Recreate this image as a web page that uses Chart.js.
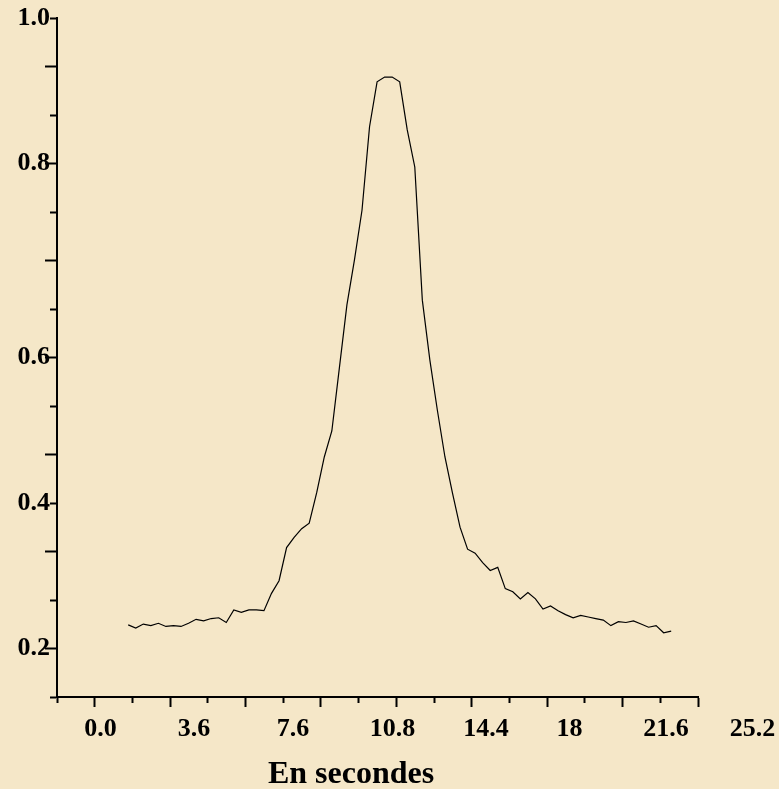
<!DOCTYPE html>
<html>
<head>
<meta charset="utf-8">
<title>En secondes</title>
<script src="https://cdn.jsdelivr.net/npm/chart.js@4.4.1/dist/chart.umd.min.js"></script>
<style>
    html, body {
        margin: 0;
        padding: 0;
        background: #f5e7c8;
        overflow: hidden;
    }
    canvas {
        display: block;
    }
</style>
</head>
<body>
<canvas id="signal-chart" width="779" height="789"></canvas>
<script>
// sample times (s), one every 0.36 s
const times = [
    1.60, 1.96, 2.32, 2.68, 3.04, 3.40, 3.76, 4.12, 4.48, 4.84,
    5.20, 5.56, 5.92, 6.28, 6.64, 7.00, 7.36, 7.72, 8.08, 8.44,
    8.80, 9.16, 9.52, 9.88, 10.24, 10.60, 10.96, 11.32, 11.68, 12.04,
    12.40, 12.76, 13.12, 13.48, 13.84, 14.20, 14.56, 14.92, 15.28, 15.64,
    16.00, 16.36, 16.72, 17.08, 17.44, 17.80, 18.16, 18.52, 18.88, 19.24,
    19.60, 19.96, 20.32, 20.68, 21.04, 21.40, 21.76, 22.12, 22.48, 22.84,
    23.20, 23.56, 23.92, 24.28, 24.64, 25.00, 25.36, 25.72, 26.08, 26.44,
    26.80, 27.16, 27.52,
];

const values = [
    0.230, 0.226, 0.231, 0.229, 0.232, 0.228, 0.229, 0.228, 0.232, 0.237,
    0.235, 0.238, 0.239, 0.233, 0.249, 0.246, 0.249, 0.249, 0.248, 0.270,
    0.286, 0.328, 0.341, 0.352, 0.359, 0.398, 0.443, 0.476, 0.556, 0.636,
    0.693, 0.756, 0.862, 0.919, 0.925, 0.925, 0.919, 0.858, 0.811, 0.642,
    0.566, 0.502, 0.443, 0.397, 0.354, 0.326, 0.321, 0.309, 0.299, 0.303,
    0.276, 0.272, 0.263, 0.271, 0.263, 0.250, 0.254, 0.248, 0.243, 0.239,
    0.242, 0.240, 0.238, 0.236, 0.229, 0.234, 0.233, 0.235, 0.231, 0.227,
    0.229, 0.220, 0.222,
];

// x axis: tick marks every 1.8, labels sit where the original put them
const xMin = -1.8;
const xMax = 28.8;
const xTickStep = 1.8;
const xTickLabels = ['0.0', '3.6', '7.6', '10.8', '14.4', '18', '21.6', '25.2'];
const xLabelAt = [0.28, 4.74, 9.47, 14.22, 18.68, 22.67, 27.27, 31.40];

// y axis: 14 intervals from 0.2 - step up to 1.0, only some ticks labelled
const yTickStep = 0.8 / 13;
const yMin = 0.2 - yTickStep;
const yMax = 1.0;
const yTickLabels = ['0.2', '0.4', '0.6', '0.8', '1.0'];
const yLabelTickIndex = [1, 4, 7, 11, 14];

const fontFamily = "'Liberation Serif', 'Times New Roman', serif";
const ink = '#000000';

const buildXTicks = (axis) => {
    const ticks = [];
    const count = Math.round((xMax - xMin) / xTickStep);

    for (let i = 0; i <= count; i++) {
        ticks.push({
            value: Math.round((xMin + i * xTickStep) * 100) / 100,
            kind: i % 2 === 1 ? 'major' : 'minor',
            text: '',
        });
    }

    xLabelAt.forEach((value, i) => {
        ticks.push({ value, kind: 'label', text: xTickLabels[i] });
    });

    axis.ticks = ticks.sort((a, b) => a.value - b.value);
};

const buildYTicks = (axis) => {
    const ticks = [];

    for (let i = 0; i <= 14; i++) {
        const labelPos = yLabelTickIndex.indexOf(i);

        ticks.push({
            value: yMin + i * yTickStep,
            long: i % 2 === 1,
            text: labelPos >= 0 ? yTickLabels[labelPos] : '',
        });
    }

    axis.ticks = ticks;
};

const tickText = (value, index, ticks) => ticks[index].text;

new Chart(document.getElementById('signal-chart'), {
    type: 'line',
    data: {
        datasets: [{
            data: times.map((t, i) => ({ x: t, y: values[i] })),
            borderColor: ink,
            borderWidth: 1.2,
            pointRadius: 0,
            tension: 0,
            fill: false,
        }],
    },
    options: {
        responsive: false,
        animation: false,
        devicePixelRatio: 1,
        layout: {
            padding: { top: 18, right: 81, bottom: -2, left: 4 },
        },
        plugins: {
            legend: { display: false },
            tooltip: { enabled: false },
            title: {
                display: true,
                text: 'En secondes',
                position: 'bottom',
                color: ink,
                font: { family: fontFamily, size: 32, weight: 'bold', lineHeight: 1 },
                padding: { top: 0, bottom: 0 },
            },
        },
        scales: {
            x: {
                type: 'linear',
                min: xMin,
                max: xMax,
                afterBuildTicks: buildXTicks,
                afterFit: (axis) => {
                    axis.height = 62;
                    axis.paddingLeft = 0;
                    axis.paddingRight = 0;
                },
                border: { display: true, color: ink, width: 2 },
                grid: {
                    drawOnChartArea: false,
                    drawTicks: true,
                    tickLength: 10,
                    tickWidth: 2,
                    tickColor: (ctx) => (ctx.tick && ctx.tick.kind === 'label' ? 'rgba(0,0,0,0)' : ink),
                    tickBorderDash: (ctx) => (ctx.tick && ctx.tick.kind === 'minor' ? [5, 100] : []),
                },
                ticks: {
                    autoSkip: false,
                    maxRotation: 0,
                    minRotation: 0,
                    padding: 7,
                    color: ink,
                    font: { family: fontFamily, size: 26, weight: 'bold', lineHeight: 1.2 },
                    callback: tickText,
                },
            },
            y: {
                type: 'linear',
                min: yMin,
                max: yMax,
                afterBuildTicks: buildYTicks,
                afterFit: (axis) => {
                    axis.width = 53;
                    axis.paddingTop = 0;
                    axis.paddingBottom = 0;
                },
                border: { display: true, color: ink, width: 2 },
                grid: {
                    drawOnChartArea: false,
                    drawTicks: true,
                    tickLength: 12,
                    tickWidth: 2,
                    tickColor: ink,
                    tickBorderDash: (ctx) => (ctx.tick && !ctx.tick.long ? [0, 5, 6, 100] : []),
                },
                ticks: {
                    autoSkip: false,
                    padding: -5,
                    color: ink,
                    font: { family: fontFamily, size: 26, weight: 'bold', lineHeight: 1.2 },
                    callback: tickText,
                },
            },
        },
    },
});
</script>
</body>
</html>
